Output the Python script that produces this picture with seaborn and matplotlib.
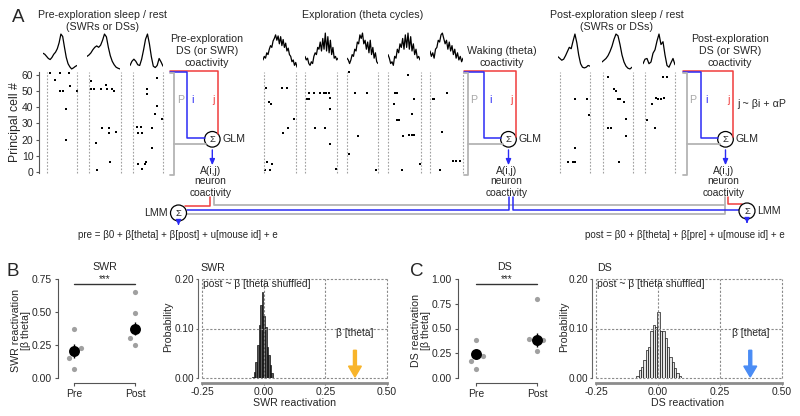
import numpy as np
import matplotlib
matplotlib.use("Agg")
import matplotlib.pyplot as plt
from matplotlib.patches import Circle
import seaborn as sns

# ---------------- data ----------------
# raster spikes: time inside the event window (0-1) and principal cell #
pre_times = [[0.09, 0.42, 0.72, 0.26, 0.44, 0.53, 0.76, 0.63, 1.0, 0.63],
             [0.07, 0.07, 0.16, 0.39, 0.53, 0.55, 0.71, 0.77, 0.41, 0.61, 0.61, 0.85, 0.23, 0.66, 0.26],
             [0.80, 0.47, 0.47, 0.80, 0.74, 0.97, 0.13, 0.28, 0.16, 0.30, 0.63, 0.63, 0.17, 0.39, 0.43, 0.30]]
pre_cells = [[61, 61, 61, 57, 50, 50, 53, 39, 50, 20],
             [56, 51, 51, 51, 54, 51, 51, 50, 27, 27, 24, 25, 18, 6, 1],
             [58, 51, 48, 41, 36, 33, 28, 28, 24, 24, 27, 15, 5, 5, 6, 2]]

exp_times = [[0.06, 0.55, 0.71, 0.17, 0.21, 0.94, 0.76, 0.60, 0.08, 0.24, 0.19, 0.03],
             [0.13, 0.29, 0.46, 0.59, 0.67, 0.75, 0.05, 0.13, 0.77, 0.77, 0.31, 0.62, 0.77, 0.96],
             [0.06, 0.25, 0.65, 0.35, 0.06, 0.92],
             [0.62, 0.21, 0.28, 0.79, 0.19, 0.28, 0.34, 0.72, 0.65, 0.72, 0.79, 0.44, 0.96, 0.41],
             [0.51, 0.08, 0.13, 0.36, 0.69, 0.80, 0.90, 0.29]]
exp_cells = [[52, 52, 52, 43, 42, 33, 27, 24, 6, 5, 1, 1],
             [49, 49, 49, 49, 49, 49, 45, 45, 46, 39, 27, 27, 17, 2],
             [62, 49, 49, 22, 11, 1],
             [60, 49, 49, 45, 42, 32, 32, 36, 23, 23, 23, 22, 5, 1],
             [49, 45, 45, 25, 7, 7, 7, 1]]

post_times = [[0.50, 0.91, 0.98, 0.50, 0.28, 0.42, 0.50],
              [0.16, 0.36, 0.44, 0.49, 0.58, 0.71, 0.78, 0.16, 0.27, 0.78, 0.52],
              [0.61, 0.72, 0.37, 0.44, 0.53, 0.63, 0.22, 0.06, 0.33]]
post_cells = [[45, 45, 35, 15, 6, 6, 6],
              [59, 51, 50, 45, 45, 43, 33, 27, 27, 22, 6],
              [59, 59, 46, 45, 45, 46, 42, 32, 27]]

# example LFP traces (normalised amplitude)
pre_waves = [[0.45, 0.42, 0.36, 0.30, 0.27, 0.33, 0.42, 0.48, 0.58, 0.75, 1.0, 0.93, 0.62, 0.33, 0.15, 0.06, 0.0, 0.03, 0.07, 0.10],
             [0.36, 0.40, 0.46, 0.55, 0.62, 0.66, 0.62, 0.68, 0.82, 1.0, 0.92, 0.62, 0.38, 0.22, 0.12, 0.05, 0.02, 0.0],
             [0.10, 0.22, 0.28, 0.22, 0.12, 0.10, 0.28, 0.55, 0.85, 1.0, 0.72, 0.35, 0.08, 0.04, 0.10, 0.30, 0.20, 0.08]]
exp_waves = [[0.25, 0.35, 0.30, 0.45, 0.40, 0.55, 0.65, 0.60, 0.78, 0.85, 0.95, 0.80, 0.92, 0.70, 0.90, 0.65, 0.82, 0.60, 0.72, 0.50, 0.58, 0.40, 0.35, 0.20, 0.25, 0.10, 0.18, 0.05],
             [0.35, 0.25, 0.30, 0.15, 0.10, 0.20, 0.15, 0.35, 0.45, 0.40, 0.60, 0.55, 0.75, 0.50, 0.85, 0.55, 1.0, 0.50, 0.90, 0.45, 0.80, 0.40, 0.60, 0.30, 0.35, 0.25, 0.30],
             [0.30, 0.25, 0.15, 0.25, 0.40, 0.35, 0.55, 0.50, 0.75, 0.70, 0.95, 0.85, 1.0, 0.70, 0.80, 0.55, 0.75, 0.45, 0.80, 0.40, 0.60, 0.30, 0.45, 0.20, 0.15],
             [0.40, 0.30, 0.15, 0.20, 0.10, 0.35, 0.30, 0.55, 0.45, 0.70, 0.60, 0.85, 0.55, 0.95, 0.60, 1.0, 0.55, 0.90, 0.50, 0.70, 0.40, 0.55, 0.30, 0.35, 0.25],
             [0.50, 0.35, 0.45, 0.30, 0.55, 0.60, 0.80, 0.75, 0.95, 1.0, 0.85, 0.70, 0.80, 0.55, 0.75, 0.50, 0.65, 0.40, 0.55, 0.30, 0.45, 0.25, 0.35, 0.20, 0.30]]
post_waves = [[0.35, 0.30, 0.25, 0.28, 0.38, 0.50, 0.62, 0.58, 0.80, 1.0, 0.75, 0.40, 0.15, 0.05, 0.03, 0.05, 0.10, 0.08],
              [0.20, 0.25, 0.30, 0.38, 0.50, 0.65, 0.85, 1.0, 0.95, 0.70, 0.40, 0.20, 0.08, 0.02, 0.0, 0.05],
              [0.15, 0.28, 0.30, 0.15, 0.20, 0.45, 0.55, 0.80, 1.0, 0.70, 0.78, 0.40, 0.10, 0.05, 0.18, 0.30, 0.12]]

# reactivation per mouse, with group estimate and error
groups = ["Pre", "Post"]
swr_pre = [0.375, 0.23, 0.155, 0.065]
swr_post = [0.65, 0.495, 0.305, 0.25]
swr_mean = [0.205, 0.372]
swr_err = [0.05, 0.05]
ds_pre = [0.38, 0.225, 0.175, 0.09]
ds_post = [0.80, 0.39, 0.385, 0.275]
ds_mean = [0.24, 0.385]
ds_err = [0.05, 0.07]

# shuffled theta beta distributions
swr_shuf_x = [-0.043, -0.0365, -0.030, -0.0235, -0.017, -0.0105, -0.004, 0.0025, 0.009, 0.0155, 0.022, 0.0285, 0.035]
swr_shuf_p = [0.003, 0.012, 0.033, 0.067, 0.107, 0.147, 0.174, 0.125, 0.104, 0.063, 0.046, 0.026, 0.010]
ds_shuf_x = [-0.083, -0.0735, -0.064, -0.0545, -0.045, -0.0355, -0.026, -0.0165, -0.007, 0.0025, 0.012, 0.0215,
             0.031, 0.0405, 0.050, 0.0595, 0.069, 0.0785, 0.088]
ds_shuf_p = [0.004, 0.016, 0.023, 0.036, 0.057, 0.063, 0.094, 0.107, 0.104, 0.134, 0.094, 0.094,
             0.081, 0.063, 0.043, 0.033, 0.020, 0.010, 0.004]
swr_beta = 0.37
ds_beta = 0.372

# ---------------- style ----------------
sns.set_style("ticks")
plt.rcParams['font.family'] = ['Liberation Sans', 'DejaVu Sans']
FS = 7.2      # ticks, schematic
FT = 7.7      # titles / labels
RED, BLUE, GREY = '#f03c3c', '#2b2bf5', '#b4b4b4'
W, H = 800, 416

fig = plt.figure(figsize=(8, 4.16), dpi=100)


def fbox(l, t, r, b):
    return [l / W, 1 - b / H, (r - l) / W, (b - t) / H]


def raster(x0, x1, times, cells, first=False):
    ax = fig.add_axes(fbox(x0, 71.7, x1, 172.8))
    ax.patch.set_alpha(0)
    sns.scatterplot(x=times, y=cells, ax=ax, marker='s', s=2, color='black', linewidth=0, clip_on=False)
    for xv in (0, 1):
        ax.axvline(xv, color='#a0a0a0', lw=0.8, ls=(0, (1.5, 1.5)), clip_on=False)
    ax.set_xlim(0, 1)
    ax.set_ylim(-0.5, 62)
    ax.set_xticks([])
    for s in ['top', 'right', 'bottom', 'left']:
        ax.spines[s].set_visible(False)
    if first:
        ax.spines['left'].set_visible(True)
        ax.spines['left'].set_position(('outward', 5.8))
        ax.spines['left'].set_color('#555555')
        ax.set_yticks(range(0, 61, 10))
        ax.tick_params(axis='y', labelsize=FS + 0.3, length=2.5, color='#555555', pad=1.5)
    else:
        ax.set_yticks([])


def wave(x0, x1, vals, top=33, bot=70):
    ax = fig.add_axes(fbox(x0, top, x1, bot))
    sns.lineplot(x=np.arange(len(vals)), y=vals, ax=ax, color='black', lw=0.9)
    ax.set_xlim(0, len(vals) - 1)
    ax.set_ylim(-0.03, 1.03)
    ax.axis('off')


pre_win = [(47, 77), (89, 121), (133, 163)]
exp_win = [(264, 296), (305, 337), (347, 378), (388, 421), (430, 463)]
post_win = [(560, 590), (603, 633), (645, 675)]
pre_wbox = [(43, 77), (87, 120), (130, 163)]
exp_wbox = [(263, 297), (305, 338), (347, 378), (388, 420), (430, 463)]
post_wbox = [(558, 590), (602, 632), (643, 675)]

for i, (a, b) in enumerate(pre_win):
    raster(a, b, pre_times[i], pre_cells[i], first=(i == 0))
    wave(*pre_wbox[i], pre_waves[i])
for i, (a, b) in enumerate(exp_win):
    raster(a, b, exp_times[i], exp_cells[i])
    wave(*exp_wbox[i], exp_waves[i], top=32)
for i, (a, b) in enumerate(post_win):
    raster(a, b, post_times[i], post_cells[i])
    wave(*post_wbox[i], post_waves[i])


# ---------------- panels B / C: reactivation dots ----------------
def dot_panel(l, r, x_pre, x_post, pre, post, pre_off, post_off, mean, err, yticks, sig_y):
    ax = fig.add_axes(fbox(l, 279, r, 378))
    xs = [o for o in pre_off] + [1 + o for o in post_off]
    sns.scatterplot(x=xs, y=pre + post, ax=ax, color='#a0a0a0', s=14, linewidth=0, zorder=2, clip_on=False)
    ax.errorbar([0, 1], mean, yerr=err, fmt='none', ecolor='black', elinewidth=1, zorder=3)
    sns.scatterplot(x=[0, 1], y=mean, ax=ax, color='black', s=62, linewidth=0, zorder=4, clip_on=False)
    ax.plot([0, 1], [sig_y, sig_y], color='#333333', lw=1)
    ax.text(0.5, sig_y, '***', ha='center', va='bottom', fontsize=FS)
    px = (x_post - x_pre)
    ax.set_xlim(-(x_pre - l) / px, 1 + (r - x_post) / px)
    ax.set_ylim(0, yticks[-1])
    sns.despine(ax=ax)
    ax.spines['bottom'].set_position(('outward', 3.6))
    ax.spines['bottom'].set_bounds(0, 1)
    ax.spines['left'].set_bounds(0, yticks[-1])
    for s in ['left', 'bottom']:
        ax.spines[s].set_color('#555555')
    ax.set_xticks([0, 1])
    ax.set_xticklabels(groups)
    ax.set_yticks(yticks)
    ax.set_yticklabels(['%.2f' % v for v in yticks])
    ax.tick_params(labelsize=FS + 0.3, length=2.5, color='#555555', pad=2)
    return ax


dot_panel(58, 148, 74, 135, swr_pre, swr_post, [0, 0.11, -0.08, 0], [0, 0, -0.08, 0],
          swr_mean, swr_err, [0, 0.25, 0.5, 0.75], 0.71)
dot_panel(458, 548, 476, 537, ds_pre, ds_post, [0, 0.12, -0.08, 0], [0, -0.13, 0.1, 0],
          ds_mean, ds_err, [0, 0.25, 0.5, 0.75, 1.0], 0.945)


# ---------------- panels B / C: shuffled histograms ----------------
def hist_panel(l, r, centers, probs, w, fill, beta, acol):
    ax = fig.add_axes(fbox(l, 279, r, 378))
    c = np.array(centers)
    edges = [float(e) for e in np.append(c - w / 2, c[-1] + w / 2)]
    sns.histplot(x=centers, weights=probs, bins=edges, ax=ax, color=fill, edgecolor='black',
                 linewidth=0.45, alpha=1, zorder=2)
    for xv in [-0.25, 0, 0.25, 0.5]:
        ax.axvline(xv, color='#8a8a8a', lw=0.8, ls=(0, (2, 1.5)), zorder=3, clip_on=False)
    for yv in [0, 0.1, 0.2]:
        ax.axhline(yv, color='#8a8a8a', lw=0.8, ls=(0, (2, 1.5)), zorder=3, clip_on=False)
    ax.arrow(beta, 0.056, 0, -0.054, width=0.012, head_width=0.052, head_length=0.022,
             length_includes_head=True, color=acol, zorder=4)
    ax.text(-0.247, 0.199, 'post ~ \u03b2 [theta shuffled]', ha='left', va='top', fontsize=FS + 0.2, zorder=5)
    ax.text(beta, 0.091, '\u03b2 [theta]', ha='center', va='center', fontsize=FS + 0.2, zorder=5)
    ax.set_xlim(-0.25, 0.5)
    ax.set_ylim(0, 0.2)
    ax.set_xlabel('')
    ax.set_ylabel('')
    sns.despine(ax=ax)
    ax.spines['left'].set_position(('outward', 3))
    ax.spines['bottom'].set_position(('outward', 3.6))
    ax.spines['left'].set_color('#666666')
    ax.spines['bottom'].set_color('#8c8c8c')
    ax.spines['bottom'].set_linewidth(2)
    ax.set_xticks([-0.25, 0, 0.25, 0.5])
    ax.set_xticklabels(['-0.25', '0.00', '0.25', '0.50'])
    ax.set_yticks([0, 0.1, 0.2])
    ax.set_yticklabels(['0.00', '0.10', '0.20'])
    ax.tick_params(labelsize=FS + 0.3, length=1.5, color='#666666', pad=1.2)
    ax.tick_params(axis='y', labelsize=FS, pad=1.0)
    return ax


hist_panel(202, 387, swr_shuf_x, swr_shuf_p, 0.0065, '#5a5a5a', swr_beta, '#f8b42a')
hist_panel(596, 782, ds_shuf_x, ds_shuf_p, 0.0095, '#e4e4e4', ds_beta, '#4a8cf5')

# ---------------- overlay: schematic, labels ----------------
ov = fig.add_axes([0, 0, 1, 1])
ov.set_xlim(0, W)
ov.set_ylim(H, 0)
ov.axis('off')


def t(x, y, s, ha='center', size=FS, **kw):
    ov.text(x, y, s, ha=ha, va='center', fontsize=size, **kw)


def glm(x0, bx, bl, rd, cx, cy=139.3, rad=7.8):
    # j (red), i (blue), P (grey bracket) feeding the GLM node
    ov.plot([x0, rd, rd], [71, 71, cy - np.sqrt(rad ** 2 - (rd - cx) ** 2)], color=RED, lw=1.1)
    ov.plot([x0, bl, bl, cx - rad + 0.3], [72.4, 72.4, cy - 1.5, cy - 1.5], color=BLUE, lw=1.1)
    ov.plot([x0, bx, bx, x0], [73.3, 73.3, 175, 175], color=GREY, lw=1.3)
    ov.plot([bx, cx - np.sqrt(rad ** 2 - 25)], [cy + 5, cy + 5], color=GREY, lw=1.3)
    ov.add_patch(Circle((cx, cy), rad, fill=True, fc='white', ec='black', lw=0.9))
    t(cx, cy, '\u03a3', size=6.8)
    t(cx + rad + 2.5, cy, 'GLM', ha='left', size=FT)
    ov.annotate('', xy=(cx, 168), xytext=(cx, cy + rad),
                arrowprops=dict(arrowstyle='-|>,head_width=0.15,head_length=0.35', color=BLUE, lw=1))
    t(bx + 6, 100, 'P', color='#a8a8a8', size=FT)
    t(bl + 6, 100, 'i', color=BLUE, size=FT)
    t(rd - 5, 100, 'j', color=RED, size=FT)
    for k, s in enumerate(['A(i,j)', 'neuron', 'coactivity']):
        t(cx - 2, 170.5 + 11 * k, s, size=FS + 0.2)


glm(170, 174.3, 186.7, 218.3, 212.3)
glm(464, 468, 484, 516, 508.5)
glm(683, 687, 701, 733, 725.5)

t(102, 15, 'Pre-exploration sleep / rest', size=FT)
t(102, 26.5, '(SWRs or DSs)', size=FT)
t(363, 15, 'Exploration (theta cycles)', size=FT)
t(617, 15, 'Post-exploration sleep / rest', size=FT)
t(617, 26.5, '(SWRs or DSs)', size=FT)
for k, s in enumerate(['Pre-exploration', 'DS (or SWR)', 'coactivity']):
    t(207, 38.5 + 12 * k, s, size=FT)
t(502, 50.5, 'Waking (theta)', size=FT)
t(502, 62.5, 'coactivity', size=FT)
for k, s in enumerate(['Post-exploration', 'DS (or SWR)', 'coactivity']):
    t(730, 38.5 + 12 * k, s, size=FT)
t(737, 104, 'j ~ \u03b2i + \u03b1P', ha='left', size=FT)
t(15, 122, 'Principal cell #', rotation=90, size=8.8)

# LMM wiring
LX, LY, RX, RY, R = 178.5, 213, 747, 211, 8
ov.plot([210, 210, LX + R - 1.5], [197, 206, 206], color=RED, lw=1.1)
ov.plot([213.5, 213.5, 725], [197, 204.5, 204.5], color=GREY, lw=1.3)
ov.plot([725, 725, LX + R], [197, 214, 214], color=GREY, lw=1.3)
ov.plot([509, 509, LX + R], [197, 210, 210], color=BLUE, lw=1.1)
ov.plot([513, 513, RX - R], [197, 210, 210], color=BLUE, lw=1.1)
ov.plot([727.5, 727.5, RX - 5], [197, 203.5, 203.5], color=RED, lw=1.1)
for cx, cy in [(LX, LY), (RX, RY)]:
    ov.add_patch(Circle((cx, cy), R, fc='white', ec='black', lw=0.9, zorder=3))
    ov.text(cx, cy, '\u03a3', ha='center', va='center', fontsize=6.8, zorder=4)
    ov.annotate('', xy=(cx, cy + R + 7), xytext=(cx, cy + R),
                arrowprops=dict(arrowstyle='-|>,head_width=0.15,head_length=0.3', color=BLUE, lw=1))
t(LX - R - 2.5, LY, 'LMM', ha='right', size=FT)
t(RX + R + 2.5, RY, 'LMM', ha='left', size=FT)
t(178, 235.5, 'pre = \u03b20 + \u03b2[theta] + \u03b2[post] + u[mouse id] + e', size=7.0)
t(685, 235.5, 'post = \u03b20 + \u03b2[theta] + \u03b2[pre] + u[mouse id] + e', size=7.0)

# B / C titles and axis labels
t(105, 267, 'SWR', size=FT)
t(505, 267, 'DS', size=FT)
t(200, 268, 'SWR', ha='left', size=FT)
t(597, 268, 'DS', ha='left', size=FT)
t(21, 330, 'SWR reactivation\n[\u03b2 theta]', rotation=90, linespacing=1.1, size=FT)
t(421, 330, 'DS reactivation\n[\u03b2 theta]', rotation=90, linespacing=1.1, size=FT)
t(168, 327, 'Probability', rotation=90, size=FT)
t(564, 327, 'Probability', rotation=90, size=FT)
t(295, 403, 'SWR reactivation', size=FT)
t(688, 403, 'DS reactivation', size=FT)

t(12, 18, 'A', ha='left', size=13.5)
t(6, 272, 'B', ha='left', size=13.5)
t(410, 272, 'C', ha='left', size=13.5)

fig.savefig('out.png', dpi=100)
